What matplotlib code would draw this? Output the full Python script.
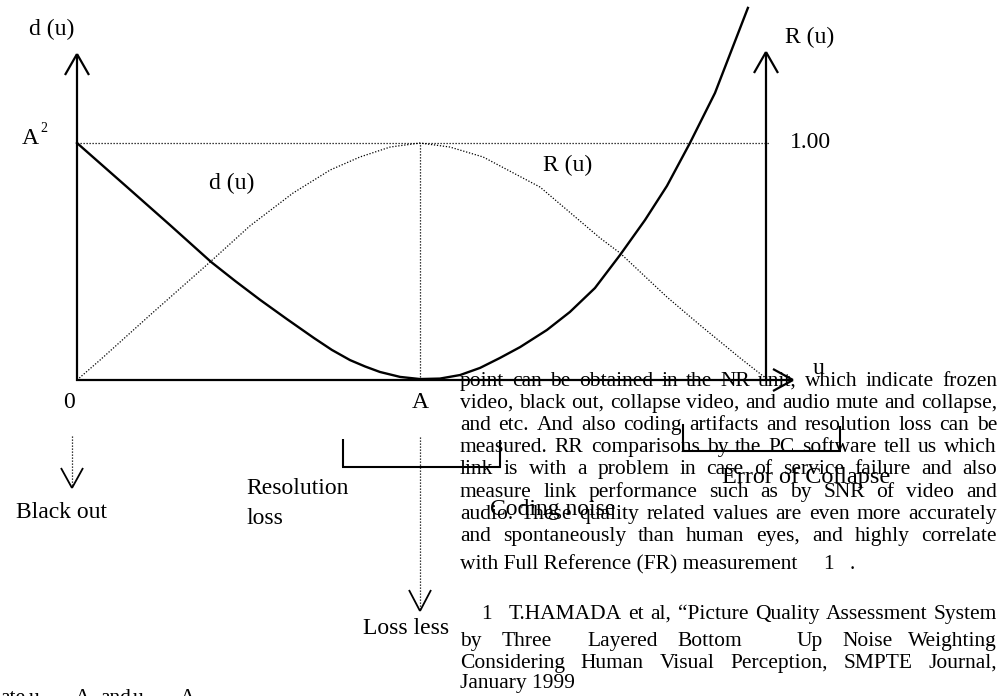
import matplotlib.pyplot as plt
from matplotlib.transforms import Affine2D

plt.rcParams['font.family'] = ['Liberation Serif', 'DejaVu Serif']

# distortion d(u), u in units of A, d in units of A^2
d_u = [0.000, 0.146, 0.271, 0.391, 0.461, 0.534, 0.612, 0.691, 0.743, 0.796,
       0.840, 0.883, 0.942, 1.000, 1.058, 1.117, 1.175, 1.233, 1.292, 1.370,
       1.437, 1.510, 1.583, 1.656, 1.720, 1.787, 1.860, 1.956]
d_val = [1.000, 0.814, 0.654, 0.498, 0.418, 0.338, 0.257, 0.177, 0.127, 0.084,
         0.057, 0.034, 0.013, 0.004, 0.006, 0.021, 0.051, 0.093, 0.139, 0.211,
         0.287, 0.388, 0.527, 0.675, 0.819, 1.000, 1.211, 1.570]

# rate R(u), normalised to 1.00 at u = A
r_u = [0.000, 0.067, 0.213, 0.388, 0.504, 0.630, 0.738, 0.825, 0.913, 1.000,
       1.087, 1.184, 1.350, 1.525, 1.583, 1.720, 1.816, 1.933, 2.015]
r_val = [0.000, 0.084, 0.274, 0.498, 0.650, 0.789, 0.886, 0.941, 0.983, 1.000,
         0.983, 0.941, 0.814, 0.599, 0.536, 0.350, 0.232, 0.093, 0.000]

body_lines = [
    "point can be obtained in the NR unit, which indicate frozen",
    "video, black out, collapse video, and audio mute and collapse,",
    "and etc. And also coding artifacts and resolution loss can be",
    "measured. RR comparisons by the PC software tell us which",
    "link is with a problem in case of service failure and also",
    "measure link performance such as by SNR of video and",
    "audio. These quality related values are even more accurately",
    "and spontaneously than human eyes, and highly correlate",
]
ref_line1 = "T.HAMADA et al, \u201cPicture Quality Assessment System"
ref_line2 = ["by", "Three", "Layered", "Bottom", "Up", "Noise", "Weighting"]
ref_line3 = "Considering Human Visual Perception, SMPTE Journal,"

W, H = 1003, 696
OX, OY = 77, 380        # pixel position of the origin
SX, SY = 343, 237       # pixels per unit of A and of A^2
BODY = 15.5


def to_data(x, y):
    return (x - OX) / SX, (OY - y) / SY


fig = plt.figure(figsize=(W / 100, H / 100), dpi=100)
ax = fig.add_axes([0, 0, 1, 1])
ax.set_xlim(-OX / SX, (W - OX) / SX)
ax.set_ylim((OY - H) / SY, OY / SY)
ax.axis('off')

# text placed by pixel position measured from the top-left corner
pix = Affine2D().scale(1, -1).translate(0, H)


def label(x, y, s, size=17, ha='center', va='center'):
    return ax.text(x, y, s, transform=pix, fontsize=size, ha=ha, va=va)


def seg(p0, p1, lw=1.6, **kw):
    (x0, y0), (x1, y1) = to_data(*p0), to_data(*p1)
    ax.plot([x0, x1], [y0, y1], color='k', lw=lw, solid_capstyle='butt', **kw)


def open_head(tip, d, length=21, half=12, lw=1.6):
    tx, ty = tip
    bx, by = tx - d[0] * length, ty - d[1] * length
    nx, ny = -d[1], d[0]
    for s in (1, -1):
        seg((bx + s * nx * half, by + s * ny * half), tip, lw=lw)


dots = dict(color='k', lw=0.9, linestyle=(0, (1, 1.4)))

# guide lines
ax.plot([0, to_data(770, 0)[0]], [1, 1], **dots)
ax.plot([1, 1], [0, 1], **dots)
ax.plot(r_u, r_val, **dots)

# axes with open arrow heads
seg((77, 381), (77, 54))
open_head((77, 54), (0, -1))
seg((766, 381), (766, 52))
open_head((766, 52), (0, -1))
seg((76, 380), (793, 380))
open_head((793, 380), (1, 0), length=20, half=11)

ax.plot(d_u, d_val, color='k', lw=1.7, solid_joinstyle='round')

# downward dotted pointers
x, y0 = to_data(72, 436)
ax.plot([x, x], [y0, to_data(72, 486)[1]], **dots)
open_head((72, 488), (0, 1), length=20, half=11, lw=1.3)
x, y0 = to_data(420, 437)
ax.plot([x, x], [y0, to_data(420, 609)[1]], **dots)
open_head((420, 611), (0, 1), length=21, half=11, lw=1.3)

# brackets
seg((343, 439), (343, 467), lw=1.5)
seg((342, 467), (501, 467), lw=1.5)
seg((500, 467), (500, 440), lw=1.5)
seg((683, 424), (683, 451), lw=1.5)
seg((682, 451), (841, 451), lw=1.5)
seg((840, 451), (840, 426), lw=1.5)

# axis labels
label(52, 29, "d (u)")
label(810, 37, "R (u)")
label(30, 139, "A")
label(44, 129, "2", size=10)
label(810, 143, "1.00")
label(232, 183, "d (u)")
label(568, 165, "R (u)")
label(69, 403, "0")
label(420, 402, "A")
label(819, 368, "u")

label(61, 513, "Black out")
label(246, 488, "Resolution", ha='left')
label(246, 518, "loss", ha='left')
label(806, 477, "Error of Collapse", size=17.5)
label(553, 510, "Coding noise")
label(406, 628, "Loss less")

renderer = fig.canvas.get_renderer()


def justify(words, x0, x1, y, size=BODY):
    texts = [ax.text(0, 0, w, transform=pix, fontsize=size, va='baseline')
             for w in words]
    widths = [t.get_window_extent(renderer).width for t in texts]
    gap = (x1 - x0 - sum(widths)) / (len(words) - 1)
    x = x0
    for t, w in zip(texts, widths):
        t.set_position((x, y))
        x += w + gap


baselines = [386, 408, 430, 452, 474, 497, 519, 541]
for line, yb in zip(body_lines, baselines):
    justify(line.split(), 460, 997, yb)

label(460, 569, "with Full Reference (FR) measurement", size=BODY, ha='left', va='baseline')
label(823, 569, "1", size=BODY, ha='left', va='baseline')
label(850, 569, ".", size=BODY, ha='left', va='baseline')

label(481, 619, "1", size=BODY, ha='left', va='baseline')
justify(ref_line1.split(), 509, 997, 619)
ref2_x = [460, 502, 587, 677, 797, 842]
for w, xw in zip(ref_line2[:-1], ref2_x):
    label(xw, 646, w, size=BODY, ha='left', va='baseline')
label(997, 646, ref_line2[-1], size=BODY, ha='right', va='baseline')
justify(ref_line3.split(), 460, 997, 668)
label(460, 688, "January 1999", size=BODY, ha='left', va='baseline')

# clipped line at the bottom edge
for w, xw in [("ate", 0), ("u", 29), ("A", 75), ("and", 100), ("u", 133), ("A", 180)]:
    label(xw, 703, w, size=BODY, ha='left', va='baseline')

fig.savefig("out.png", dpi=100)
